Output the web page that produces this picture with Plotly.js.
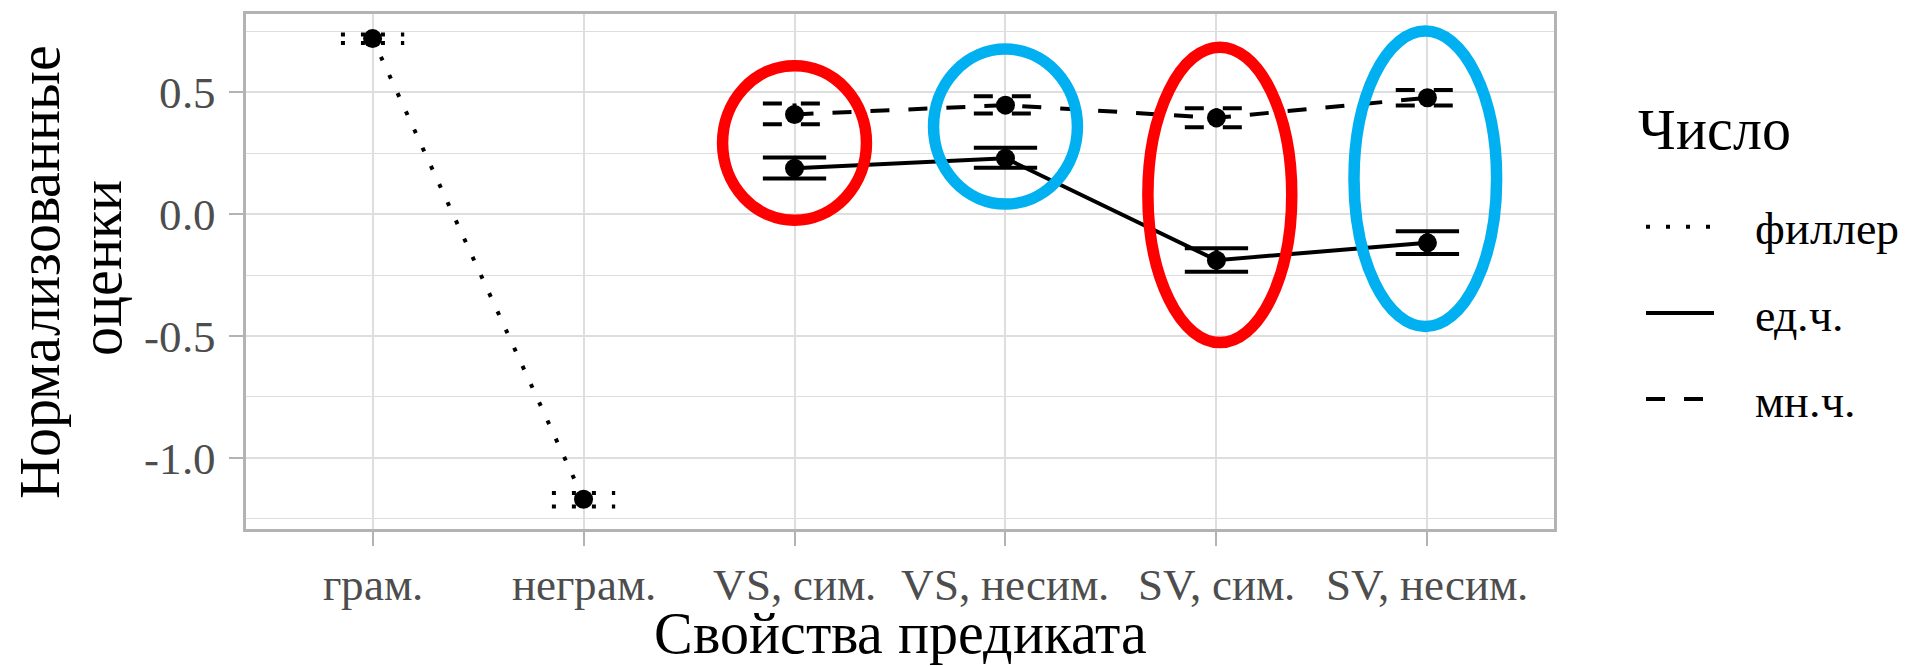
<!DOCTYPE html>
<html>
<head>
<meta charset="utf-8">
<script src="https://cdn.plot.ly/plotly-3.0.1.min.js"></script>
<style>
  @font-face {
    font-family: 'ChartSerif';
    src: local('Liberation Serif'), local('LiberationSerif'), local('LiberationSerif-Regular'), local('Times New Roman');
    font-weight: normal;
    font-style: normal;
  }
  html, body { margin: 0; padding: 0; background: #fff; }
  #chart { width: 1906px; height: 666px; }
  svg text { font-family: 'ChartSerif', 'Liberation Serif', serif !important; }
</style>
</head>
<body>
<div id="chart"></div>
<script>
// ---------- data ----------
const categories = ['грам.', 'неграм.', 'VS, сим.', 'VS, несим.', 'SV, сим.', 'SV, несим.'];

const seriesNames = ['филлер', 'ед.ч.', 'мн.ч.'];

const fillerCats = ['грам.', 'неграм.'];
const fillerMean = [0.720, -1.170];
const fillerLow  = [0.702, -1.200];
const fillerHigh = [0.737, -1.144];

const sgCats = ['VS, сим.', 'VS, несим.', 'SV, сим.', 'SV, несим.'];
const sgMean = [0.188, 0.229, -0.189, -0.118];
const sgLow  = [0.146, 0.190, -0.237, -0.164];
const sgHigh = [0.232, 0.272, -0.140, -0.070];

const plCats = ['VS, сим.', 'VS, несим.', 'SV, сим.', 'SV, несим.'];
const plMean = [0.409, 0.447, 0.395, 0.477];
const plLow  = [0.369, 0.413, 0.356, 0.446];
const plHigh = [0.454, 0.484, 0.434, 0.509];

const yTickVals = [-1.0, -0.5, 0.0, 0.5];
const yTickText = ['-1.0', '-0.5', '0.0', '0.5'];
const yMinorVals = [-1.25, -0.75, -0.25, 0.25, 0.75];

// highlight ellipses (category, centre value, half-width in category units, half-height in value units)
const ellipseCats   = ['VS, сим.', 'VS, несим.', 'SV, сим.', 'SV, несим.'];
const ellipseOffset = [0.0, 0.0, 0.016, -0.01];
const ellipseCentre = [0.292, 0.359, 0.079, 0.145];
const ellipseHalfW  = [0.341, 0.341, 0.341, 0.338];
const ellipseHalfH  = [0.317, 0.318, 0.606, 0.606];
const ellipseColors = ['#FF0000', '#00B0F0', '#FF0000', '#00B0F0'];

// ---------- styling ----------
const FONT = 'ChartSerif';
const dashes = ['4px,16px', 'solid', '19px,19px'];
const LW = 4;
const capHalf = 0.15;

const W = 1906, H = 666;
const M = { l: 246, r: 352, t: 14, b: 137 };
const PW = W - M.l - M.r, PH = H - M.t - M.b;
const px = v => (v - M.l) / PW;
const py = v => (H - M.b - v) / PH;

const idx = c => categories.indexOf(c);

function seriesTraces(cats, mean, lo, hi, dash) {
  const xs = cats.map(idx);
  const line = {
    type: 'scatter', mode: 'lines', x: xs, y: mean,
    line: { color: '#000', width: LW, dash: dash },
    showlegend: false, hoverinfo: 'skip'
  };
  const ex = [], ey = [];
  xs.forEach((x, i) => {
    ex.push(x - capHalf, x + capHalf, null, x, x, null, x - capHalf, x + capHalf, null);
    ey.push(hi[i], hi[i], null, hi[i], lo[i], null, lo[i], lo[i], null);
  });
  const err = {
    type: 'scatter', mode: 'lines', x: ex, y: ey,
    line: { color: '#000', width: LW, dash: dash },
    showlegend: false, hoverinfo: 'skip', connectgaps: false
  };
  const pts = {
    type: 'scatter', mode: 'markers', x: xs, y: mean,
    marker: { color: '#000', size: 19 },
    showlegend: false
  };
  return [line, err, pts];
}

const traces = [].concat(
  seriesTraces(fillerCats, fillerMean, fillerLow, fillerHigh, dashes[0]),
  seriesTraces(sgCats, sgMean, sgLow, sgHigh, dashes[1]),
  seriesTraces(plCats, plMean, plLow, plHigh, dashes[2])
);

// ellipses
const shapes = ellipseCats.map((c, i) => {
  const cx = idx(c) + ellipseOffset[i];
  return {
    type: 'circle', xref: 'x', yref: 'y', layer: 'above',
    x0: cx - ellipseHalfW[i], x1: cx + ellipseHalfW[i],
    y0: ellipseCentre[i] - ellipseHalfH[i], y1: ellipseCentre[i] + ellipseHalfH[i],
    line: { color: ellipseColors[i], width: 11.5 }
  };
});

// manual legend (keys are long line samples like ggplot)
const legendKeyY = [226.7, 313, 399];
const annotations = [];
seriesNames.forEach((name, i) => {
  shapes.push({
    type: 'line', xref: 'paper', yref: 'paper',
    x0: px(1646), x1: px(1714), y0: py(legendKeyY[i]), y1: py(legendKeyY[i]),
    line: { color: '#000', width: LW, dash: dashes[i] }
  });
  annotations.push({
    xref: 'paper', yref: 'paper', x: px(1753), y: py(legendKeyY[i] + 2),
    xanchor: 'left', yanchor: 'middle', showarrow: false, text: name,
    font: { family: FONT, size: 46, color: '#000' }
  });
});
annotations.push({
  xref: 'paper', yref: 'paper', x: px(1636), y: py(129),
  xanchor: 'left', yanchor: 'middle', showarrow: false, text: 'Число',
  font: { family: FONT, size: 58, color: '#000' }
});
// y-axis title (two lines, like ggplot)
annotations.push({
  xref: 'paper', yref: 'paper', x: px(39), y: py(272),
  xanchor: 'center', yanchor: 'middle', showarrow: false, textangle: -90,
  text: 'Нормализованные', font: { family: FONT, size: 58, color: '#000' }
});
annotations.push({
  xref: 'paper', yref: 'paper', x: px(101), y: py(268),
  xanchor: 'center', yanchor: 'middle', showarrow: false, textangle: -90,
  text: 'оценки', font: { family: FONT, size: 58, color: '#000' }
});

const layout = {
  width: W, height: H,
  margin: M,
  paper_bgcolor: '#fff', plot_bgcolor: '#fff',
  showlegend: false,
  font: { family: FONT, color: '#000' },
  xaxis: {
    range: [-0.6, 5.6],
    tickmode: 'array',
    tickvals: categories.map((c, i) => i),
    ticktext: categories,
    showgrid: true, gridcolor: '#DEDEDE', gridwidth: 2,
    zeroline: false,
    showline: true, mirror: true, linecolor: '#B3B3B3', linewidth: 3,
    ticks: 'outside', ticklen: 14, tickwidth: 2, tickcolor: '#B3B3B3',
    tickfont: { family: FONT, size: 45, color: '#4D4D4D' },
    ticklabelstandoff: 0,
    title: { text: 'Свойства предиката', font: { family: FONT, size: 58, color: '#000' }, standoff: 12 },
    automargin: false
  },
  yaxis: {
    range: [-1.292, 0.821],
    tickmode: 'array',
    tickvals: yTickVals,
    ticktext: yTickText,
    showgrid: true, gridcolor: '#DEDEDE', gridwidth: 2,
    minor: { tickmode: 'array', tickvals: yMinorVals, showgrid: true, gridcolor: '#DEDEDE', gridwidth: 1.2, ticks: '' },
    zeroline: false,
    showline: true, mirror: true, linecolor: '#B3B3B3', linewidth: 3,
    ticks: 'outside', ticklen: 14, tickwidth: 2, tickcolor: '#B3B3B3',
    tickfont: { family: FONT, size: 45, color: '#4D4D4D' },
    ticklabelstandoff: 4,
    automargin: false
  },
  shapes: shapes,
  annotations: annotations
};

function draw() {
  Plotly.newPlot('chart', traces, layout, { displayModeBar: false }).then(function () {
    // redraw once more so text is laid out with the loaded font
    return Plotly.relayout('chart', { 'xaxis.title.standoff': 12 });
  });
}

if (document.fonts && document.fonts.load) {
  Promise.all([
    document.fonts.load('45px ChartSerif', 'Свойства 0.5 VS'),
    document.fonts.load('58px ChartSerif', 'Число')
  ]).then(draw, draw);
} else {
  draw();
}
</script>
</body>
</html>
